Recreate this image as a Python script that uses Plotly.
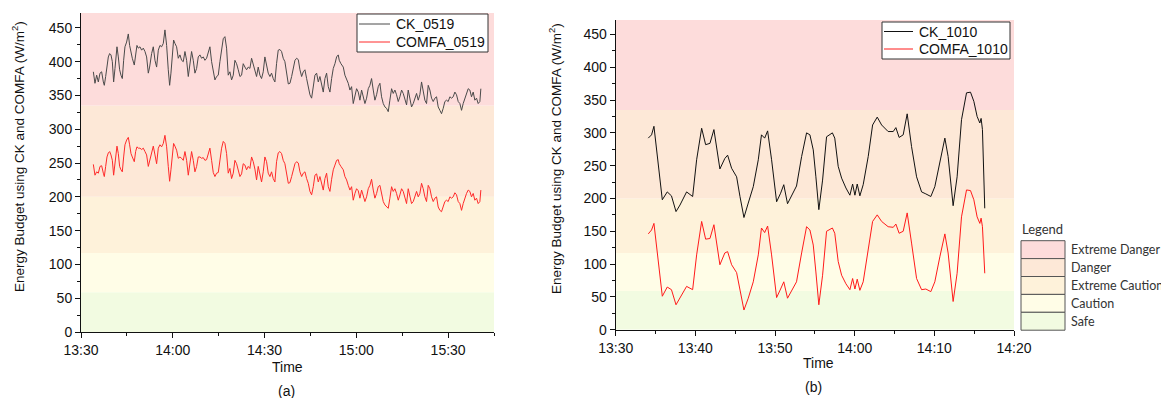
import plotly.graph_objects as go
import pandas as pd

# The page body has an 8 px margin, so the figure is drawn 8 px smaller and
# all screen positions below are given in window pixels, then shifted.
WIN_W, WIN_H, OFF = 1169, 398, 8
W, H = WIN_W - OFF, WIN_H - OFF

# ---------------- hazard bands ----------------
band_names = ["Safe", "Caution", "Extreme Caution", "Danger", "Extreme Danger"]
band_edges = [0, 59, 117, 200, 335, 472]
band_colors = ["#F2FBE1", "#FFFDE7", "#FEF2DA", "#FDE8D7", "#FDDCDB"]

# ---------------- 19 May (a) ----------------
# minutes after 13:30
t_0519 = [
    4.03, 4.57, 5.12, 5.66, 6.21, 6.75, 7.30, 7.62, 8.06, 8.49,
    8.93, 9.37, 9.80, 10.24, 10.67, 11.11, 11.76, 12.20, 12.63, 13.07,
    13.50, 13.94, 14.37, 14.92, 15.46, 15.90, 16.34, 16.77, 17.42, 17.86,
    18.29, 18.73, 19.28, 19.82, 20.36, 20.91, 21.45, 22.00, 22.43, 23.09,
    23.63, 24.18, 24.72, 25.27, 25.81, 26.35, 26.90, 27.44, 27.99, 28.53,
    28.97, 29.40, 29.84, 30.27, 30.71, 31.25, 31.80, 32.34, 32.89, 33.43,
    33.98, 34.52, 35.07, 35.61, 36.15, 36.70, 37.24, 37.79, 38.33, 38.88,
    39.42, 39.97, 40.51, 41.05, 41.60, 42.14, 42.69, 43.23, 43.78, 44.32,
    44.87, 45.41, 45.96, 46.50, 47.04, 47.59, 48.13, 48.68, 49.22, 49.77,
    50.31, 50.86, 51.40, 51.95, 52.49, 53.03, 53.58, 54.12, 54.67, 55.21,
    55.76, 56.30, 56.85, 57.39, 57.93, 58.48, 59.02, 59.57, 60.11, 60.66,
    61.20, 61.75, 62.29, 62.83, 63.38, 63.92, 64.47, 65.01, 65.56, 66.10,
    66.65,
    67.76, 68.30, 68.85, 69.39, 69.94, 70.48, 71.03, 71.57, 72.12, 72.66,
    73.20, 73.75, 74.29, 74.84, 75.38, 75.93, 76.47, 77.02, 77.56, 78.10,
    78.65, 79.19, 79.74, 80.28, 80.83, 81.37, 81.92, 82.46, 83.01, 83.55,
    84.09, 84.42, 84.97, 85.73, 86.27, 86.82, 87.36, 87.91, 88.45, 88.99,
    89.54, 90.08, 90.63, 91.17, 91.72, 92.26, 92.81, 93.35, 93.90, 94.44,
    94.98, 95.53, 96.07, 96.62, 97.16, 97.71, 98.25, 98.80, 99.34, 99.88,
    100.43, 100.97, 101.52, 102.06, 102.61, 103.15, 103.70, 104.24, 104.79, 105.33,
    105.87, 106.42, 106.96, 107.51, 108.05, 108.60, 109.14, 109.69, 110.23, 110.77,
    111.32, 111.86, 112.41, 112.95, 113.50, 114.04, 114.59, 115.13, 115.68, 116.22,
    116.76, 117.31, 117.85, 118.40, 118.94, 119.49, 120.03, 120.58, 121.12, 121.66,
    122.21, 122.75, 123.30, 123.84, 124.39, 124.93, 125.48, 126.02, 126.57, 127.11,
    127.65, 128.20, 128.74, 129.29, 129.83, 130.38, 130.70,
]
ck_0519 = [
    385, 368, 380, 370, 383, 385, 370, 365, 378, 395,
    407, 412, 410, 400, 370, 390, 422, 407, 388, 380,
    375, 402, 422, 429, 441, 424, 412, 405, 395, 412,
    424, 420, 422, 417, 420, 415, 407, 383, 392, 412,
    422, 402, 392, 417, 424, 422, 427, 447, 424, 388,
    365, 383, 412, 432, 427, 422, 405, 410, 402, 400,
    415, 402, 378, 397, 415, 402, 383, 390, 407, 410,
    405, 407, 402, 405, 412, 422, 400, 383, 373, 378,
    380, 400, 422, 434, 437, 420, 380, 385, 373, 380,
    402, 397, 388, 378, 380, 397, 392, 388, 392, 390,
    405, 397, 388, 378, 392, 380, 375, 385, 407, 397,
    383, 378, 383, 375, 370, 397, 417, 418, 415, 405,
    400,
    367, 368, 378, 392, 402, 405, 403, 388, 378, 385,
    388, 375, 365, 351, 346, 363, 380, 383, 370, 378,
    363, 355, 375, 383, 363, 355, 375, 390, 397, 407,
    410, 402, 397, 392, 380, 375, 368, 358, 363, 338,
    351, 360, 355, 343, 358, 348, 338, 346, 360, 365,
    375, 358, 343, 351, 363, 368, 348, 338, 333, 331,
    326, 343, 360, 353, 358, 351, 341, 348, 358, 353,
    343, 336, 358, 343, 333, 338, 346, 353, 343, 351,
    370, 358, 343, 338, 365, 358, 346, 341, 346, 348,
    333, 328, 323, 331, 341, 343, 341, 348, 346, 348,
    355, 351, 341, 338, 328, 338, 346, 355, 360, 358,
    348, 355, 343, 346, 338, 341, 360,
]
comfa_0519 = [
    248, 232, 237, 235, 245, 246, 235, 230, 245, 259,
    265, 267, 262, 254, 232, 254, 275, 264, 245, 240,
    237, 259, 277, 284, 288, 277, 264, 259, 252, 267,
    274, 272, 272, 270, 272, 267, 262, 245, 254, 267,
    275, 262, 249, 272, 277, 274, 279, 291, 274, 245,
    223, 240, 264, 279, 275, 269, 257, 259, 257, 254,
    267, 254, 232, 252, 267, 254, 237, 245, 259, 259,
    257, 258, 254, 255, 262, 272, 254, 236, 230, 235,
    236, 254, 272, 282, 279, 264, 235, 242, 227, 235,
    254, 249, 240, 230, 234, 249, 247, 240, 245, 242,
    259, 252, 241, 225, 245, 230, 222, 237, 259, 252,
    235, 230, 237, 227, 222, 252, 265, 267, 264, 254,
    249,
    220, 221, 230, 242, 249, 252, 250, 237, 230, 235,
    237, 227, 220, 208, 203, 215, 232, 234, 222, 230,
    217, 210, 227, 235, 215, 208, 226, 240, 247, 254,
    255, 249, 245, 240, 230, 225, 217, 210, 215, 195,
    205, 212, 209, 198, 210, 203, 193, 200, 212, 217,
    226, 210, 198, 205, 215, 217, 203, 193, 188, 185,
    183, 198, 215, 208, 212, 205, 195, 203, 212, 208,
    198, 190, 212, 200, 190, 193, 200, 208, 200, 205,
    220, 212, 200, 193, 217, 212, 200, 193, 198, 200,
    185, 180, 178, 185, 193, 195, 193, 200, 198, 200,
    206, 203, 193, 190, 180, 190, 198, 205, 210, 208,
    200, 205, 195, 198, 190, 193, 210,
]

# ---------------- 10 October (b) ----------------
t_1010 = [
    4.09, 4.5, 4.8, 5.14, 5.47, 5.85, 6.47, 7.0, 7.57, 8.07,
    8.9, 9.66, 10.16, 10.79, 11.29, 11.83, 12.33, 13.08, 13.7, 14.05,
    14.55, 15.18, 15.6, 16.1, 16.64, 17.27, 17.9, 18.3, 18.7, 19.07,
    19.57, 20.2, 20.7, 21.1, 21.57, 22.2, 22.7, 23.34, 23.96, 24.38,
    24.8, 25.13, 25.5, 25.97, 26.47, 27.2, 27.5, 27.93, 28.36, 28.9,
    29.4, 29.74, 30.03, 30.32, 30.65, 31.07, 31.7, 32.25, 32.83, 33.38,
    34.2, 34.84, 35.17, 35.58, 36.09, 36.59, 37.14, 37.77, 38.4, 38.93,
    39.56, 40.06, 40.69, 41.32, 41.73, 42.36, 42.86, 43.41, 44.04, 44.54,
    44.96, 45.37, 45.71, 45.87, 46.04, 46.33,
]
ck_1010 = [
    292, 297, 310, 274, 233, 198, 210, 204, 180, 190,
    210, 203, 259, 307, 282, 284, 305, 245, 261, 266,
    246, 233, 203, 171, 193, 218, 259, 297, 292, 303,
    259, 195, 208, 221, 192, 208, 219, 264, 300, 297,
    274, 233, 183, 228, 294, 300, 292, 249, 231, 216,
    205, 222, 205, 222, 204, 221, 264, 312, 324, 312,
    302, 302, 308, 293, 297, 329, 279, 233, 210, 207,
    203, 218, 256, 292, 264, 189, 233, 320, 361, 362,
    348, 325, 315, 322, 305, 185,
]
comfa_1010 = [
    146, 152, 162, 127, 86, 51, 65, 61, 38, 48,
    66, 61, 114, 165, 138, 139, 160, 99, 117, 119,
    99, 87, 61, 30, 48, 73, 114, 155, 148, 158,
    114, 49, 62, 73, 48, 62, 73, 117, 157, 152,
    129, 88, 38, 83, 150, 155, 147, 104, 83, 70,
    61, 78, 62, 77, 60, 73, 122, 165, 175, 165,
    157, 156, 161, 147, 150, 178, 132, 78, 61, 62,
    58, 73, 111, 146, 117, 43, 86, 172, 213, 212,
    198, 172, 162, 170, 157, 86,
]

y_ticks = [0, 50, 100, 150, 200, 250, 300, 350, 400, 450]

series_names = ["CK_0519", "COMFA_0519", "CK_1010", "COMFA_1010"]
series_colors = ["#4a4a4a", "#ff2a2a", "#111111", "#ff1a1a"]


def clock(day, minutes):
    return pd.Timestamp(day + " 13:30:00") + pd.to_timedelta(minutes, unit="m")


xa = clock("2019-05-19", t_0519)
xb = clock("2019-10-10", t_1010)

n_a = min(len(xa), len(ck_0519), len(comfa_0519))
n_b = min(len(xb), len(ck_1010), len(comfa_1010))

fig = go.Figure()
for x, y, nm, col, xa_, ya_ in (
    (xa[:n_a], ck_0519[:n_a], series_names[0], series_colors[0], "x", "y"),
    (xa[:n_a], comfa_0519[:n_a], series_names[1], series_colors[1], "x", "y"),
    (xb[:n_b], ck_1010[:n_b], series_names[2], series_colors[2], "x2", "y2"),
    (xb[:n_b], comfa_1010[:n_b], series_names[3], series_colors[3], "x2", "y2"),
):
    fig.add_trace(go.Scatter(x=x, y=y, mode="lines", name=nm, showlegend=False,
                             line=dict(color=col, width=1), xaxis=xa_, yaxis=ya_))

FONT = "Liberation Sans, Arial, sans-serif"
tickfont = dict(family=FONT, size=14, color="#111")

shapes = []
annotations = []


def PX(px):
    return (px - OFF) / W


def PY(py):
    return 1 - (py - OFF) / H


for xr, yr in (("x domain", "y"), ("x2 domain", "y2")):
    for i, c in enumerate(band_colors):
        shapes.append(dict(type="rect", xref=xr, yref=yr, x0=0, x1=1,
                           y0=band_edges[i], y1=band_edges[i + 1],
                           fillcolor=c, line=dict(width=0), layer="below"))

# series legends (boxed, drawn in paper coordinates)
legend_specs = [
    # box x0, x1, y0, y1, line x0, x1, text x, row ys, series indices
    (357, 488, 14, 52, 359, 390, 394, (24, 42), (0, 1)),
    (882, 1010, 22, 59, 884, 913, 917, (31.5, 49), (2, 3)),
]
for bx0, bx1, by0, by1, lx0, lx1, tx, rows, idx in legend_specs:
    shapes.append(dict(type="rect", xref="paper", yref="paper",
                       x0=PX(bx0), x1=PX(bx1), y0=PY(by1), y1=PY(by0),
                       fillcolor="white", line=dict(color="#333", width=1)))
    for ry, si in zip(rows, idx):
        shapes.append(dict(type="line", xref="paper", yref="paper",
                           x0=PX(lx0), x1=PX(lx1), y0=PY(ry), y1=PY(ry),
                           line=dict(color=series_colors[si], width=1)))
        annotations.append(dict(x=PX(tx), y=PY(ry), xref="paper", yref="paper",
                                text=series_names[si], showarrow=False,
                                xanchor="left", yanchor="middle",
                                font=dict(family=FONT, size=14, color="#111")))

# band legend (paper coordinates)
box_x0, box_x1 = 1021, 1065
row_top, row_h = 240.7, 17.9
LEGFONT = dict(family="Lato, Open Sans, sans-serif", size=12.5, color="#333")
for k, name in enumerate(reversed(band_names)):
    ci = len(band_names) - 1 - k
    y0 = row_top + k * row_h
    shapes.append(dict(type="rect", xref="paper", yref="paper",
                       x0=PX(box_x0), x1=PX(box_x1), y0=PY(y0 + row_h), y1=PY(y0),
                       fillcolor=band_colors[ci], line=dict(color="#555", width=1)))
    annotations.append(dict(x=PX(1069), y=PY(y0 + row_h / 2), xref="paper", yref="paper",
                            text=name, showarrow=False, xanchor="left", yanchor="middle",
                            font=LEGFONT))
annotations.append(dict(x=PX(1020), y=PY(229), xref="paper", yref="paper",
                        text="Legend", showarrow=False, xanchor="left", yanchor="middle",
                        font=dict(LEGFONT, size=13)))

ytitle = "Energy Budget using CK and COMFA (W/m<sup>2</sup>)"
for (xc, yc) in ((18, 157), (555, 159)):
    annotations.append(dict(x=PX(xc), y=PY(yc), xref="paper", yref="paper", text=ytitle,
                            textangle=-90, showarrow=False, xanchor="center", yanchor="middle",
                            font=dict(family=FONT, size=13.5, color="#111")))
for (xc, yc, txt) in ((287, 367, "Time"), (286, 391, "(a)"), (818, 363, "Time"), (813, 387, "(b)")):
    annotations.append(dict(x=PX(xc), y=PY(yc), xref="paper", yref="paper", text=txt,
                            showarrow=False, xanchor="center", yanchor="middle",
                            font=dict(family=FONT, size=14, color="#111")))


def xaxis(domain, anchor, day, end, dtick, minor):
    return dict(domain=domain, anchor=anchor, type="date", automargin=False,
                range=[day + " 13:30", day + " " + end], tickformat="%H:%M",
                tick0=day + " 13:30", dtick=dtick, ticks="outside", ticklen=5,
                tickcolor="#111", showline=True, linecolor="#111", linewidth=1,
                showgrid=False, zeroline=False, tickfont=tickfont,
                minor=dict(ticks="outside", dtick=minor, ticklen=3, tickcolor="#111",
                           showgrid=False))


def yaxis(domain, anchor):
    return dict(domain=domain, anchor=anchor, range=[0, band_edges[-1]], automargin=False,
                tickvals=y_ticks, ticks="outside", ticklen=5, tickcolor="#111",
                showline=True, linecolor="#111", linewidth=1, showgrid=False,
                zeroline=False, tickfont=tickfont,
                minor=dict(ticks="outside", dtick=25, ticklen=3, tickcolor="#111",
                           showgrid=False))


fig.update_layout(
    width=W, height=H, autosize=False,
    margin=dict(l=0, r=0, t=0, b=0, autoexpand=False),
    paper_bgcolor="white", plot_bgcolor="white",
    xaxis=xaxis([PX(81), PX(494)], "y", "2019-05-19", "15:45", 1800000, 900000),
    yaxis=yaxis([PY(332), PY(13)], "x"),
    xaxis2=xaxis([PX(615.7), PX(1014)], "y2", "2019-10-10", "14:20", 600000, 300000),
    yaxis2=yaxis([PY(329.7), PY(20)], "x2"),
    shapes=shapes,
    annotations=annotations,
    showlegend=False,
)

fig.write_html("out.html")
